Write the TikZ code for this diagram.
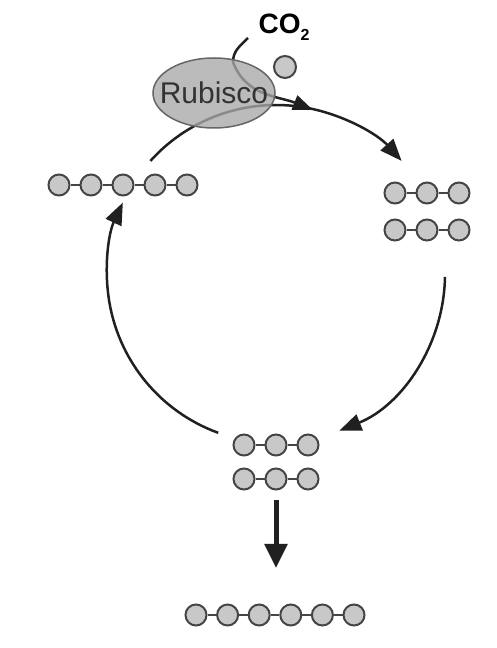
\documentclass[tikz,border=0pt]{standalone}
\usepackage{fontspec}
\setmainfont{Liberation Sans}
\usetikzlibrary{arrows.meta,shapes.geometric}
\definecolor{carbonfill}{HTML}{C8C8C8}
\definecolor{carbonedge}{HTML}{454545}
\definecolor{enzymefill}{HTML}{A8A8A8}
\definecolor{enzymeedge}{HTML}{666666}
\definecolor{cycleline}{HTML}{202020}

\begin{document}
\begin{tikzpicture}[x=1pt,y=1pt,
    carbon/.style={circle,draw=carbonedge,fill=carbonfill,line width=2pt,
      minimum size=21pt,inner sep=0pt},
    bond/.style={draw=carbonedge,line width=2pt},
    cycle/.style={draw=cycleline,line width=2.5pt,
      -{Triangle[length=22pt,width=17pt]}},
    feed/.style={draw=cycleline,line width=2.5pt,
      -{Triangle[length=20pt,width=15pt]}},
    export/.style={draw=cycleline,line width=5pt,
      -{Triangle[length=24pt,width=22pt]}},
    enzyme/.style={ellipse,draw=enzymeedge,fill=enzymefill,line width=1.5pt,
      fill opacity=.78,minimum width=122pt,minimum height=70pt,inner sep=0pt},
    enzymetext/.style={text=black!80,font=\fontsize{30}{36}\selectfont,inner sep=0pt}]
\useasboundingbox (0,0) rectangle (496,648);
\coordinate (C) at (276,374);

% carbon chains
\foreach \i in {1,...,5}
  \node[carbon] (five\i) at ({27+32*\i},463) {};
\foreach \i [count=\j from 2] in {1,...,4}
  \draw[bond] (five\i) -- (five\j);
\foreach \i in {1,2,3} {
  \node[carbon] (ra\i) at ({363+32*\i},455) {};
  \node[carbon] (rb\i) at ({363+32*\i},418) {};
  \node[carbon] (ba\i) at ({212+32*\i},203) {};
  \node[carbon] (bb\i) at ({212+32*\i},169) {};
}
\foreach \i [count=\j from 2] in {1,2} {
  \draw[bond] (ra\i) -- (ra\j);
  \draw[bond] (rb\i) -- (rb\j);
  \draw[bond] (ba\i) -- (ba\j);
  \draw[bond] (bb\i) -- (bb\j);
}
\foreach \i in {1,...,6}
  \node[carbon] (six\i) at ({164.4+31.6*\i},33) {};
\foreach \i [count=\j from 2] in {1,...,5}
  \draw[bond] (six\i) -- (six\j);

% the cycle
\draw[cycle] (C) ++(138:169) arc[start angle=138,end angle=42,radius=169];
\draw[cycle] (C) ++(-1:169) arc[start angle=-1,end angle=-68,radius=169];
\draw[cycle] (C) ++(250:169) arc[start angle=250,end angle=155,radius=169];

% CO2 entering
\node[font=\bfseries\fontsize{28}{30}\selectfont] (co2) at (284,621)
  {CO\raisebox{-7pt}{\fontsize{16}{16}\selectfont 2}};
\node[carbon,minimum size=22pt] (co2c) at (285,581) {};
\coordinate (co2tail) at (248,610);
\coordinate (co2bend) at (233,586);
\coordinate (fixtip) at (313,538);
\draw[feed] (co2tail) to[out=225,in=90] (co2bend)
  to[out=-70,in=158] (fixtip);

\node[enzyme] (rubisco) at (214,555) {};
\node[enzymetext] (rubiscolabel) at (rubisco) {Rubisco};

% product leaving
\draw[export,shorten <=9.5pt,shorten >=35.5pt] (bb2.south) -- (bb2.south |- six1.north);
\end{tikzpicture}
\end{document}
